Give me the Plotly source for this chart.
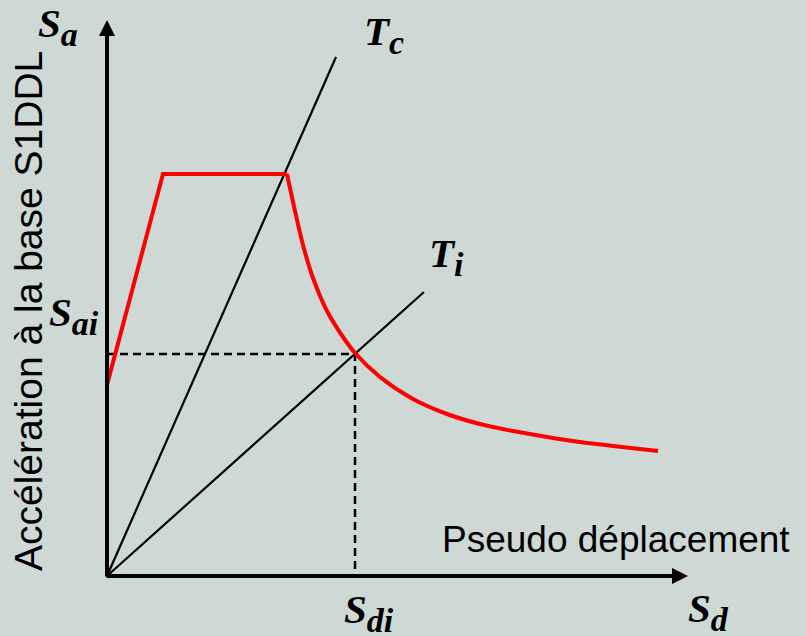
import plotly.graph_objects as go

# Pixel-like units: origin of the diagram at the axes corner
# Spectrum (capacity demand) curve - rising branch + plateau
ramp_x = [0, 56, 180]
ramp_y = [191, 402, 402]
# Decaying branch
decay_x = [180, 188, 196, 206, 220, 236, 248, 273, 306, 340, 373, 406, 440, 473, 506, 551]
decay_y = [402, 365, 331, 298, 265, 239, 223, 199, 177, 162, 152, 145, 139, 134, 130, 125]

# Period lines through the origin
tc_x = [0, 229]
tc_y = [0, 519]
ti_x = [0, 317]
ti_y = [0, 284]

# Performance point
s_di = 248
s_ai = 222

# Axis extents (arrow tips)
x_axis_end = 581
y_axis_end = 556

BG = "#CED8D5"
MATH_FONT = dict(family="Liberation Serif", size=41, color="black", weight="bold", style="italic")


def math_label(main, sub):
    return f"{main}<sub><span style='font-size:34px'>{sub}</span></sub>"


fig = go.Figure()

# thin light line beneath the dashed guides
fig.add_trace(go.Scatter(x=[0, s_di, s_di], y=[s_ai, s_ai, 0], mode="lines",
                         line=dict(color="#BFE0F0", width=1), hoverinfo="skip"))
fig.add_trace(go.Scatter(x=[0, s_di, s_di], y=[s_ai, s_ai, 0], mode="lines",
                         line=dict(color="black", width=2.5, dash="8px,5px"), hoverinfo="skip"))

fig.add_trace(go.Scatter(x=tc_x, y=tc_y, mode="lines", line=dict(color="black", width=2.2)))
fig.add_trace(go.Scatter(x=ti_x, y=ti_y, mode="lines", line=dict(color="black", width=2.2)))

fig.add_trace(go.Scatter(x=ramp_x, y=ramp_y, mode="lines", line=dict(color="#FF0000", width=4)))
fig.add_trace(go.Scatter(x=decay_x, y=decay_y, mode="lines",
                         line=dict(color="#FF0000", width=4, shape="spline", smoothing=0.8)))

# axes with arrows
for tip, tail in [((x_axis_end, 0), (-2, 0)), ((0, y_axis_end), (0, -2))]:
    fig.add_annotation(x=tip[0], y=tip[1], ax=tail[0], ay=tail[1], xref="x", yref="y",
                       axref="x", ayref="y", text="", showarrow=True, arrowhead=2,
                       arrowsize=0.8, arrowwidth=4, arrowcolor="black", standoff=0)

labels = [
    ("S", "a", -49, 550),
    ("T", "c", 277, 542),
    ("T", "i", 339, 320),
    ("S", "ai", -33, 261),
    ("S", "di", 262, -36),
    ("S", "d", 601, -35),
]
for main, sub, x, y in labels:
    fig.add_annotation(x=x, y=y, xref="x", yref="y", text=math_label(main, sub),
                       showarrow=False, font=MATH_FONT)

fig.add_annotation(x=509, y=37, xref="x", yref="y", text="Pseudo déplacement", showarrow=False,
                   font=dict(family="Liberation Sans", size=37, color="black"))
fig.add_annotation(x=-79, y=265, xref="x", yref="y", text="Accélération à la base S1DDL",
                   textangle=-90, showarrow=False,
                   font=dict(family="Liberation Sans", size=39, color="black"))

fig.update_layout(
    width=806, height=636,
    margin=dict(l=0, r=0, t=0, b=0),
    paper_bgcolor=BG, plot_bgcolor=BG,
    showlegend=False,
    xaxis=dict(range=[-107, 699], visible=False, fixedrange=True),
    yaxis=dict(range=[-60, 576], visible=False, fixedrange=True),
)

fig.write_html("out.html", config={"displayModeBar": False},
               post_script="document.body.style.margin='0';document.body.style.background='" + BG + "';")
